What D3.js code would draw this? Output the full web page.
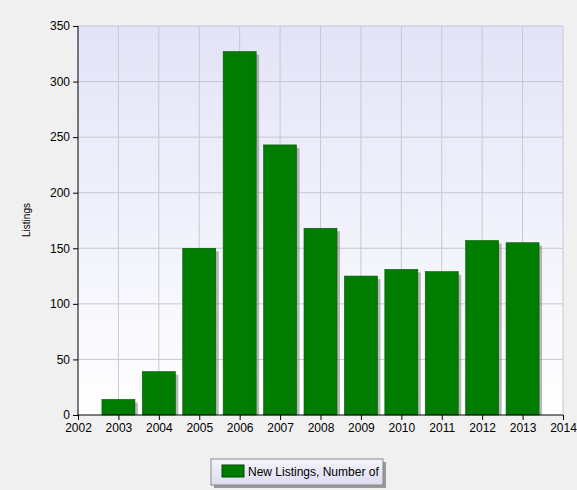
<!DOCTYPE html><html><head><script src="https://cdn.jsdelivr.net/npm/d3@7"></script>
<style>body{margin:0;background:#f0f0f0}text{font-family:"Liberation Sans",Arial,sans-serif}</style></head><body>
<svg id="c" width="577" height="490"></svg>
<script>
const years=[2003,2004,2005,2006,2007,2008,2009,2010,2011,2012,2013];
const listings=[14,39,150,327,243,168,125,131,129,157,155];
const yTicks=[0,50,100,150,200,250,300,350];
const xTicks=[2002,2003,2004,2005,2006,2007,2008,2009,2010,2011,2012,2013,2014];
const seriesName="New Listings, Number of";
const svg=d3.select("#c");
const L=78,R=563,T=26,B=415;
const x=d3.scaleLinear().domain([2002,2014]).range([L,R]);
const y=d3.scaleLinear().domain([0,350]).range([B,T]);
const defs=svg.append("defs");
const g=defs.append("linearGradient").attr("id","bg").attr("x1",0).attr("y1",0).attr("x2",0).attr("y2",1);
g.append("stop").attr("offset","0").attr("stop-color","#e3e3f8");
g.append("stop").attr("offset","1").attr("stop-color","#ffffff");
const lg=defs.append("linearGradient").attr("id","lg").attr("x1",0).attr("y1",0).attr("x2",0).attr("y2",1);
lg.append("stop").attr("offset","0").attr("stop-color","#f4f4fc");
lg.append("stop").attr("offset","1").attr("stop-color","#dcdcf0");
svg.append("rect").attr("x",L).attr("y",T).attr("width",R-L).attr("height",B-T).attr("fill","url(#bg)");
svg.append("g").selectAll("line").data(yTicks.slice(1)).join("line").attr("x1",L).attr("x2",R).attr("y1",d=>y(d)).attr("y2",d=>y(d)).attr("stroke","#c8c8d0");
svg.append("g").selectAll("line").data(xTicks.slice(1)).join("line").attr("y1",T).attr("y2",B).attr("x1",d=>x(d)).attr("x2",d=>x(d)).attr("stroke","#c8c8d0");
const bw=33;
svg.append("g").selectAll("rect").data(years).join("rect").attr("x",(d)=>x(d)-bw/2+3).attr("y",(d,i)=>y(listings[i])+3).attr("width",bw).attr("height",(d,i)=>B-y(listings[i])-3).attr("fill","#888").attr("opacity",0.6);
svg.append("g").selectAll("rect").data(years).join("rect").attr("x",(d)=>x(d)-bw/2).attr("y",(d,i)=>y(listings[i])).attr("width",bw).attr("height",(d,i)=>B-y(listings[i])).attr("fill","#007d00").attr("stroke","#005a00").attr("stroke-width",0.6);
const ya=svg.append("g").attr("transform",`translate(${L},0)`).call(d3.axisLeft(y).tickValues(yTicks).tickSize(5).tickPadding(3));
const xa=svg.append("g").attr("transform",`translate(0,${B})`).call(d3.axisBottom(x).tickValues(xTicks).tickFormat(d3.format("d")).tickSize(5).tickPadding(3));
[ya,xa].forEach(a=>{a.selectAll("path,line").attr("stroke","#000");a.selectAll("text").attr("font-size",12).attr("fill","#000").attr("font-family","Liberation Sans, Arial");});
ya.select(".domain").attr("d",`M0,${T}V${B}`);
xa.select(".domain").attr("d",`M${L},0H${R}`);
svg.append("text").attr("transform","translate(30,220) rotate(-90)").attr("text-anchor","middle").attr("font-size",10).text("Listings");
svg.append("rect").attr("x",214).attr("y",462).attr("width",172).attr("height",26).attr("fill","#999");
svg.append("rect").attr("x",211).attr("y",459).attr("width",172).attr("height",26).attr("fill","url(#lg)").attr("stroke","#888");
svg.append("rect").attr("x",222).attr("y",465).attr("width",22).attr("height",12).attr("fill","#007d00").attr("stroke","#004800");
svg.append("text").attr("x",248).attr("y",476).attr("font-size",12).text(seriesName);
</script></body></html>
